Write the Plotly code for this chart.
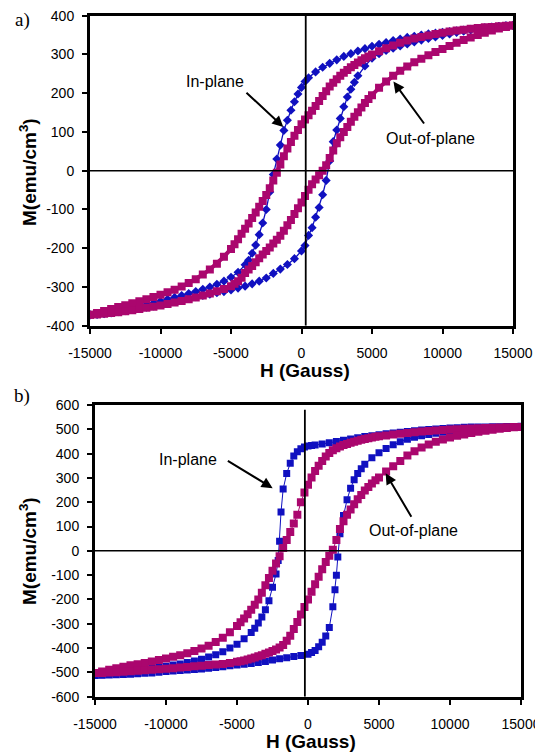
import plotly.graph_objects as go

# ---------------- Panel a) data ----------------
A_IN_DESC_H = [15000, 14500, 14000, 13500, 13000, 12500, 12000, 11500, 11000, 10500,
               10000, 9500, 9000, 8500, 8000, 7500, 7000, 6500, 6000, 5500,
               5000, 4500, 4000, 3500, 3000, 2500, 2000, 1500, 1000, 500,
               250, 0, -250, -500, -750, -1000, -1250, -1500, -1750, -2000,
               -2250, -2500, -2750, -3000, -3250, -3500, -3750, -4000,
               -4500, -5000, -5500, -6000, -6500, -7000, -7500, -8000, -8500, -9000,
               -9500, -10000, -10500, -11000, -11500, -12000, -12500, -13000, -13500, -14000,
               -14500, -15000]
A_IN_DESC_M = [375, 374, 372, 371, 369, 367, 365, 363, 361, 359,
               357, 355, 353, 350, 347, 344, 340, 336, 331, 326,
               321, 315, 309, 302, 295, 286, 277, 267, 255, 240,
               230, 215, 198, 178, 156, 130, 104, 66, 30, -10,
               -55, -100, -135, -165, -192, -213, -231, -243,
               -262, -275, -285, -293, -300, -306, -312, -317, -322, -327,
               -332, -337, -342, -346, -350, -354, -358, -362, -365, -368,
               -370, -372]
A_IN_ASC_H = [-15000, -14500, -14000, -13500, -13000, -12500, -12000, -11500, -11000, -10500,
              -10000, -9500, -9000, -8500, -8000, -7500, -7000, -6500, -6000, -5500,
              -5000, -4500, -4000, -3500, -3000, -2500, -2000, -1500, -1000, -500,
              0, 250, 500, 750, 1000, 1250, 1500, 1750, 2000, 2250,
              2500, 2750, 3000, 3250, 3500, 3750, 4000,
              4500, 5000, 5500, 6000, 6500, 7000, 7500, 8000, 8500, 9000,
              9500, 10000, 10500, 11000, 11500, 12000, 12500, 13000, 13500, 14000,
              14500, 15000]
A_IN_ASC_M = [-372, -371, -369, -367, -364, -361, -358, -355, -352, -349,
              -345, -341, -337, -333, -329, -325, -322, -319, -315, -312,
              -308, -303, -298, -292, -285, -277, -265, -254, -242, -227,
              -207, -193, -167, -147, -120, -95, -62, -25, 25, 75,
              105, 135, 165, 190, 210, 228, 245,
              270, 290, 302, 310, 316, 322, 327, 332, 337, 341,
              345, 349, 353, 357, 360, 363, 366, 368, 370, 372,
              374, 375]

A_OUT_DESC_H = [15000, 14500, 14000, 13500, 13000, 12500, 12000, 11500, 11000, 10500,
                10000, 9500, 9000, 8500, 8000, 7500, 7000, 6500, 6000, 5500,
                5000, 4750, 4500, 4250, 4000, 3750, 3500, 3250, 3000, 2750,
                2500, 2250, 2000, 1750, 1500, 1250, 1000, 750, 500, 250,
                0, -250, -500, -750, -1000, -1250, -1500, -1750, -2000, -2250,
                -2500, -2750, -3000, -3250, -3500, -3750, -4000, -4250, -4500, -4750,
                -5000,
                -5500, -6000, -6500, -7000, -7500, -8000, -8500, -9000, -9500, -10000,
                -10500, -11000, -11500, -12000, -12500, -13000, -13500, -14000, -14500, -15000]
A_OUT_DESC_M = [375, 374, 373, 371, 370, 368, 366, 364, 362, 359,
                356, 353, 349, 345, 341, 336, 330, 323, 316, 308,
                300, 295, 290, 285, 279, 273, 267, 260, 253, 245,
                236, 227, 217, 205, 193, 180, 167, 155, 143, 132,
                120, 105, 90, 74, 57, 37, 16, -5, -25, -45,
                -63, -78, -93, -108, -122, -136, -150, -163, -177, -190,
                -202,
                -222, -240, -255, -268, -280, -290, -299, -307, -314, -320,
                -326, -332, -337, -342, -347, -352, -357, -362, -367, -372]
A_OUT_ASC_H = [-15000, -14500, -14000, -13500, -13000, -12500, -12000, -11500, -11000, -10500,
               -10000, -9500, -9000, -8500, -8000, -7500, -7000, -6500, -6000, -5500,
               -5000, -4750, -4500, -4250, -4000, -3750, -3500, -3250, -3000, -2750,
               -2500, -2250, -2000, -1750, -1500, -1250, -1000, -750, -500, -250,
               0, 250, 500, 750, 1000, 1250, 1500, 1750, 2000, 2250,
               2500, 2750, 3000, 3250, 3500, 3750, 4000, 4250, 4500, 4750,
               5000,
               5500, 6000, 6500, 7000, 7500, 8000, 8500, 9000, 9500, 10000,
               10500, 11000, 11500, 12000, 12500, 13000, 13500, 14000, 14500, 15000]
A_OUT_ASC_M = [-372, -371, -369, -367, -365, -363, -360, -357, -354, -351,
               -348, -344, -340, -336, -332, -327, -322, -317, -311, -305,
               -298, -292, -285, -276, -264, -255, -246, -236, -226, -216,
               -207, -198, -188, -178, -168, -155, -141, -127, -112, -97,
               -82, -65, -49, -35, -23, -12, 0, 14, 33, 52,
               71, 86, 100, 113, 126, 139, 151, 163, 175, 185,
               195,
               214, 230, 245, 258, 269, 280, 289, 298, 306, 314,
               322, 330, 337, 344, 350, 356, 362, 367, 371, 375]

# ---------------- Panel b) data ----------------
B_IN_DESC_H = [15000, 14500, 14000, 13500, 13000, 12500, 12000, 11500, 11000, 10500,
               10000, 9500, 9000, 8500, 8000, 7500, 7000, 6500, 6000, 5500,
               5000, 4500, 4000, 3500, 3000, 2500, 2000, 1500, 1000, 500,
               250, 0, -250, -500, -750, -1000, -1250, -1500, -1750, -1900,
               -2000, -2100, -2250, -2500, -2750, -3000, -3250, -3500, -3750, -4000,
               -4500, -5000, -5500, -6000, -6500, -7000, -7500, -8000, -8500, -9000,
               -9500, -10000, -10500, -11000, -11500, -12000, -12500, -13000, -13500, -14000,
               -14500, -15000]
B_IN_DESC_M = [513, 512, 512, 511, 511, 510, 510, 509, 508, 506,
               505, 503, 501, 499, 497, 494, 491, 488, 485, 482,
               478, 474, 470, 465, 460, 455, 450, 445, 440, 435,
               433, 431, 427, 420, 408, 390, 360, 318, 254, 160,
               40, -40, -95, -150, -205, -242, -272, -297, -318, -336,
               -362, -384, -400, -415, -427, -437, -446, -453, -459, -465,
               -470, -475, -480, -484, -488, -492, -496, -500, -503, -507,
               -510, -513]
B_IN_ASC_H = [-15000, -14500, -14000, -13500, -13000, -12500, -12000, -11500, -11000, -10500,
              -10000, -9500, -9000, -8500, -8000, -7500, -7000, -6500, -6000, -5500,
              -5000, -4500, -4000, -3500, -3000, -2500, -2000, -1500, -1000, -500,
              0, 250, 500, 750, 1000, 1250, 1500, 1750, 1900, 2000,
              2100, 2250, 2500, 2750, 3000, 3250, 3500, 3750, 4000,
              4500, 5000, 5500, 6000, 6500, 7000, 7500, 8000, 8500, 9000,
              9500, 10000, 10500, 11000, 11500, 12000, 12500, 13000, 13500, 14000,
              14500, 15000]
B_IN_ASC_M = [-513, -512, -511, -510, -509, -508, -506, -504, -502, -499,
              -496, -494, -492, -490, -488, -486, -483, -480, -477, -473,
              -470, -467, -463, -459, -455, -449, -444, -440, -435, -431,
              -425, -418, -410, -395, -376, -350, -315, -230, -160, -100,
              -25, 70, 145, 210, 258, 292, 318, 338, 356,
              383, 404, 421, 436, 449, 459, 467, 474, 479, 484,
              488, 492, 495, 498, 500, 502, 504, 506, 507, 509,
              510, 512]

B_OUT_DESC_H = [15000, 14500, 14000, 13500, 13000, 12500, 12000, 11500, 11000, 10500,
                10000, 9500, 9000, 8500, 8000, 7500, 7000, 6500, 6000, 5500,
                5000, 4750, 4500, 4250, 4000, 3750, 3500, 3250, 3000, 2750,
                2500, 2250, 2000, 1750, 1500, 1250, 1000, 750, 500, 250,
                0, -250, -500, -750, -1000, -1250, -1500, -1750, -2000, -2250,
                -2500, -2750, -3000, -3250, -3500, -3750, -4000, -4250, -4500, -4750,
                -5000,
                -5500, -6000, -6500, -7000, -7500, -8000, -8500, -9000, -9500, -10000,
                -10500, -11000, -11500, -12000, -12500, -13000, -13500, -14000, -14500, -15000]
B_OUT_DESC_M = [510, 509, 508, 507, 506, 505, 504, 503, 502, 500,
                499, 497, 495, 493, 491, 488, 485, 482, 479, 475,
                471, 469, 466, 463, 460, 457, 453, 449, 445, 440,
                435, 429, 422, 414, 403, 388, 370, 350, 329, 302,
                272, 240, 200, 148, 112, 78, 45, 12, -22, -52,
                -82, -112, -142, -172, -200, -222, -242, -261, -278, -294,
                -309,
                -335, -357, -375, -390, -402, -412, -421, -429, -436, -443,
                -449, -455, -461, -466, -471, -477, -483, -489, -496, -503]
B_OUT_ASC_H = [-15000, -14500, -14000, -13500, -13000, -12500, -12000, -11500, -11000, -10500,
               -10000, -9500, -9000, -8500, -8000, -7500, -7000, -6500, -6000, -5500,
               -5000, -4750, -4500, -4250, -4000, -3750, -3500, -3250, -3000, -2750,
               -2500, -2250, -2000, -1750, -1500, -1250, -1000, -750, -500, -250,
               0, 250, 500, 750, 1000, 1250, 1500, 1750, 2000, 2250,
               2500, 2750, 3000, 3250, 3500, 3750, 4000, 4250, 4500, 4750,
               5000,
               5500, 6000, 6500, 7000, 7500, 8000, 8500, 9000, 9500, 10000,
               10500, 11000, 11500, 12000, 12500, 13000, 13500, 14000, 14500, 15000]
B_OUT_ASC_M = [-503, -502, -500, -499, -497, -495, -493, -491, -489, -487,
               -485, -483, -480, -478, -475, -473, -470, -468, -465, -461,
               -456, -454, -451, -447, -443, -439, -434, -429, -423, -418,
               -412, -406, -398, -387, -370, -349, -322, -293, -262, -231,
               -200, -168, -137, -107, -76, -46, -20, 5, 45, 90,
               122, 148, 170, 192, 212, 230, 248, 263, 277, 290,
               302,
               326, 348, 370, 392, 410, 425, 438, 449, 458, 466,
               473, 479, 485, 490, 494, 498, 502, 505, 508, 510]

X_TICKS = [-15000, -10000, -5000, 0, 5000, 10000, 15000]
X_TICK_TEXT = ["-15000", "-10000", "-5000", "0", "5000", "10000", "15000"]
A_Y_TICKS = [-400, -300, -200, -100, 0, 100, 200, 300, 400]
A_Y_TICK_TEXT = ["-400", "-300", "-200", "-100", "0", "100", "200", "300", "400"]
B_Y_TICKS = [-600, -500, -400, -300, -200, -100, 0, 100, 200, 300, 400, 500, 600]
B_Y_TICK_TEXT = ["-600", "-500", "-400", "-300", "-200", "-100", "0",
                 "100", "200", "300", "400", "500", "600"]

for h, m in [(A_IN_DESC_H, A_IN_DESC_M), (A_IN_ASC_H, A_IN_ASC_M),
             (A_OUT_DESC_H, A_OUT_DESC_M), (A_OUT_ASC_H, A_OUT_ASC_M),
             (B_IN_DESC_H, B_IN_DESC_M), (B_IN_ASC_H, B_IN_ASC_M),
             (B_OUT_DESC_H, B_OUT_DESC_M), (B_OUT_ASC_H, B_OUT_ASC_M)]:
    assert len(h) == len(m), (len(h), len(m))

BLUE = "#1010C0"
PINK = "#AA066E"
FONT = "Liberation Sans, Arial, sans-serif"

# The page body has an 8px margin, so the figure is offset by 8px in the window.
OFF = 8
W, H = 543 - OFF, 755 - OFF


def px(xw):
    return (xw - OFF) / W


def py(yw):
    return 1 - (yw - OFF) / H


fig = go.Figure()

# panel a
fig.add_trace(go.Scatter(x=A_IN_DESC_H + A_IN_ASC_H, y=A_IN_DESC_M + A_IN_ASC_M,
                         xaxis="x", yaxis="y", mode="lines+markers",
                         line=dict(color=BLUE, width=1.3),
                         marker=dict(symbol="diamond", size=7, color=BLUE),
                         showlegend=False))
fig.add_trace(go.Scatter(x=A_OUT_DESC_H + A_OUT_ASC_H, y=A_OUT_DESC_M + A_OUT_ASC_M,
                         xaxis="x", yaxis="y", mode="lines+markers",
                         line=dict(color=PINK, width=4),
                         marker=dict(symbol="square", size=8, color=PINK),
                         showlegend=False))
# panel b
fig.add_trace(go.Scatter(x=B_IN_DESC_H + B_IN_ASC_H, y=B_IN_DESC_M + B_IN_ASC_M,
                         xaxis="x2", yaxis="y2", mode="lines+markers",
                         line=dict(color=BLUE, width=1),
                         marker=dict(symbol="square", size=7, color=BLUE),
                         showlegend=False))
fig.add_trace(go.Scatter(x=B_OUT_DESC_H + B_OUT_ASC_H, y=B_OUT_DESC_M + B_OUT_ASC_M,
                         xaxis="x2", yaxis="y2", mode="lines+markers",
                         line=dict(color=PINK, width=1),
                         marker=dict(symbol="square", size=8, color=PINK),
                         showlegend=False))

axis_common = dict(showline=True, linecolor="black", linewidth=3, mirror=True,
                   showgrid=False, zeroline=False, ticks="outside", ticklen=5,
                   tickwidth=1.5, tickcolor="black", automargin=False,
                   ticklabeloverflow="allow",
                   tickfont=dict(family=FONT, size=14, color="black"))

fig.update_layout(
    width=W, height=H, autosize=False,
    margin=dict(l=0, r=0, t=0, b=0, pad=0),
    paper_bgcolor="white", plot_bgcolor="white",
    xaxis=dict(domain=[px(90), px(513)], range=[-15000, 15000], tickvals=X_TICKS,
               ticktext=X_TICK_TEXT, anchor="y", ticklabelstandoff=7, **axis_common),
    yaxis=dict(domain=[py(325.7), py(15.7)], range=[-400, 400], tickvals=A_Y_TICKS,
               ticktext=A_Y_TICK_TEXT, anchor="x", ticklabelstandoff=5, **axis_common),
    xaxis2=dict(domain=[px(95), px(521)], range=[-15000, 15000], tickvals=X_TICKS,
                ticktext=X_TICK_TEXT, anchor="y2", ticklabelstandoff=7, **axis_common),
    yaxis2=dict(domain=[py(696.7), py(405)], range=[-600, 600], tickvals=B_Y_TICKS,
                ticktext=B_Y_TICK_TEXT, anchor="x2", ticklabelstandoff=5, **axis_common),
)

# reference lines
fig.add_shape(type="line", xref="x", yref="y", x0=-15000, x1=15000, y0=0, y1=0,
              line=dict(color="black", width=1.5))
fig.add_shape(type="line", xref="x", yref="y", x0=300, x1=300, y0=-400, y1=400,
              line=dict(color="black", width=1.8))
fig.add_shape(type="line", xref="x2", yref="y2", x0=-15000, x1=15000, y0=0, y1=0,
              line=dict(color="black", width=1.5))
fig.add_shape(type="line", xref="x2", yref="y2", x0=-220, x1=-220, y0=-600, y1=580,
              line=dict(color="black", width=1.8))

ann = []
txt_font = dict(family=FONT, size=16, color="black")
arrow_style = dict(text="", showarrow=True, arrowhead=2, arrowsize=1.1, arrowwidth=2,
                   arrowcolor="black", standoff=0, startstandoff=0)
# panel a labels
ann.append(dict(text="In-plane", x=-6140, y=230, xref="x", yref="y", showarrow=False, font=txt_font))
ann.append(dict(x=-1290, y=113, ax=-4010, ay=205, xref="x", yref="y", axref="x", ayref="y", **arrow_style))
ann.append(dict(text="Out-of-plane", x=9120, y=84, xref="x", yref="y", showarrow=False, font=txt_font))
ann.append(dict(x=6520, y=230, ax=8770, ay=118, xref="x", yref="y", axref="x", ayref="y", **arrow_style))
# panel b labels
ann.append(dict(text="In-plane", x=-8470, y=374, xref="x2", yref="y2", showarrow=False, font=txt_font))
ann.append(dict(x=-2490, y=258, ax=-5750, ay=374, xref="x2", yref="y2", axref="x2", ayref="y2", **arrow_style))
ann.append(dict(text="Out-of-plane", x=7460, y=82, xref="x2", yref="y2", showarrow=False, font=txt_font))
ann.append(dict(x=5470, y=319, ax=7340, ay=134, xref="x2", yref="y2", axref="x2", ayref="y2", **arrow_style))

# axis titles
title_font = dict(family=FONT, size=19, color="black")
ann.append(dict(text="<b>H (Gauss)</b>", x=px(305), y=py(370), xref="paper", yref="paper",
                showarrow=False, font=title_font, xanchor="center", yanchor="middle"))
ann.append(dict(text="<b>H (Gauss)</b>", x=px(311), y=py(741), xref="paper", yref="paper",
                showarrow=False, font=title_font, xanchor="center", yanchor="middle"))
ann.append(dict(text="<b>M(emu/cm<sup>3</sup>)</b>", x=px(28), y=py(172), xref="paper", yref="paper",
                showarrow=False, font=title_font, textangle=-90, xanchor="center", yanchor="middle"))
ann.append(dict(text="<b>M(emu/cm<sup>3</sup>)</b>", x=px(28), y=py(551), xref="paper", yref="paper",
                showarrow=False, font=title_font, textangle=-90, xanchor="center", yanchor="middle"))
# panel letters
letter_font = dict(family="Liberation Serif, Times New Roman, serif", size=19, color="black")
ann.append(dict(text="a)", x=px(22), y=py(20), xref="paper", yref="paper",
                showarrow=False, font=letter_font, xanchor="center", yanchor="middle"))
ann.append(dict(text="b)", x=px(22), y=py(396), xref="paper", yref="paper",
                showarrow=False, font=letter_font, xanchor="center", yanchor="middle"))

fig.update_layout(annotations=ann)
fig.write_html("out.html")
